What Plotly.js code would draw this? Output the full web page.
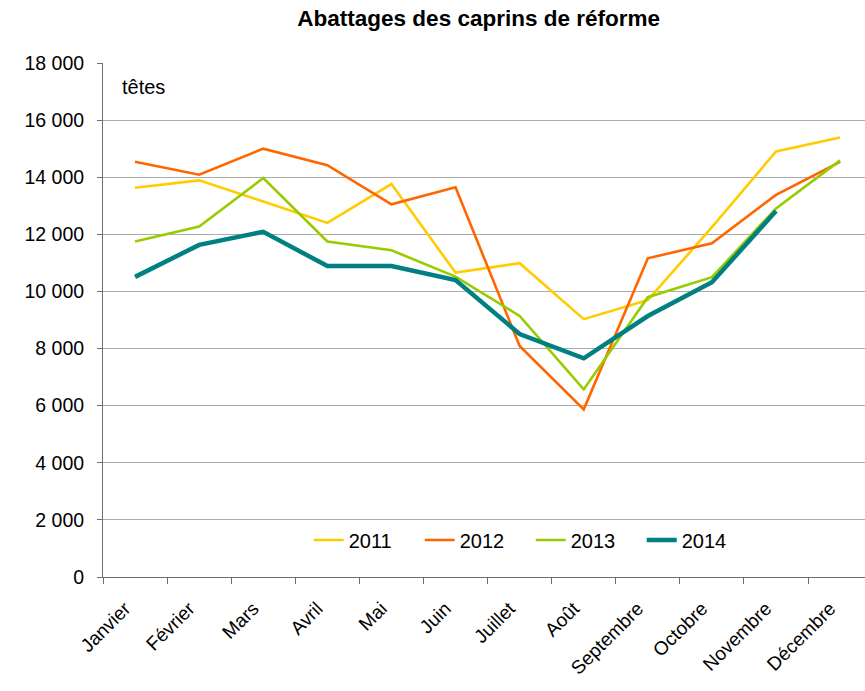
<!DOCTYPE html>
<html>
<head>
<meta charset="utf-8">
<script src="https://cdn.plot.ly/plotly-3.0.1.min.js"></script>
<style>html,body{margin:0;padding:0;background:#fff;}#chart{width:865px;height:691px;}</style>
</head>
<body>
<div id="chart"></div>
<script>
const months = ["Janvier","Février","Mars","Avril","Mai","Juin","Juillet","Août","Septembre","Octobre","Novembre","Décembre"];
const v2011 = [13630,13890,13150,12400,13760,10660,10990,9030,9700,12250,14900,15390];
const v2012 = [14540,14090,15000,14420,13050,13650,8090,5870,11160,11690,13380,14540];
const v2013 = [11750,12270,13970,11750,11440,10520,9140,6570,9800,10500,12910,14590];
const v2014 = [10510,11630,12090,10890,10890,10400,8510,7660,9140,10320,12820,null];
const seriesNames = ["2011","2012","2013","2014"];
const colors = ["#FFCC00","#FF6600","#99CC00","#008080"];
const widths = [2.6,2.6,2.6,4.5];
const vals = [v2011,v2012,v2013,v2014];

const traces = vals.map((v,i)=>({
  type:'scatter', mode:'lines', x:months, y:v, name:seriesNames[i],
  line:{color:colors[i], width:widths[i]}, connectgaps:false
}));

const ff = '"Liberation Sans", Arial, sans-serif';
const layout = {
  width:865, height:691,
  margin:{l:103, r:0, t:63, b:114},
  paper_bgcolor:'#fff', plot_bgcolor:'#fff',
  separators:', ',
  font:{family:ff, color:'#000'},
  title:{text:'<b>Abattages des caprins de réforme</b>', font:{family:ff, size:22.5, color:'#000'},
         x:0.493, xref:'paper', xanchor:'center', y:0.974, yref:'container', yanchor:'middle'},
  xaxis:{
    type:'category', range:[-0.5, 11.388], showgrid:false, zeroline:false,
    showline:true, linecolor:'#6e6e6e', linewidth:1,
    ticks:'outside', ticklen:6, tickcolor:'#6e6e6e', tickson:'boundaries',
    tickangle:-45, tickfont:{family:ff, size:19, color:'#000'},
    ticklabelstandoff:12, ticklabelshift:-10
  },
  yaxis:{
    range:[0,18000], dtick:2000, tickformat:',d', showgrid:true, gridcolor:'#ababab', gridwidth:1,
    zeroline:false, showline:true, linecolor:'#6e6e6e', linewidth:1,
    ticks:'outside', ticklen:5, tickcolor:'#6e6e6e',
    tickfont:{family:ff, size:19.5, color:'#000'}, ticklabelstandoff:9
  },
  showlegend:true,
  legend:{orientation:'h', x:0.270, xanchor:'left', y:0.072, yanchor:'middle',
    font:{family:ff, size:20, color:'#000'}, bgcolor:'rgba(0,0,0,0)', traceorder:'normal',
    entrywidth:66, entrywidthmode:'pixels'},
  annotations:[{text:'têtes', xref:'paper', yref:'paper', x:0.022, y:0.954, xanchor:'left', yanchor:'middle',
    showarrow:false, font:{family:ff, size:20, color:'#000'}}]
};
Plotly.newPlot('chart', traces, layout, {staticPlot:true, displayModeBar:false});
</script>
</body>
</html>
